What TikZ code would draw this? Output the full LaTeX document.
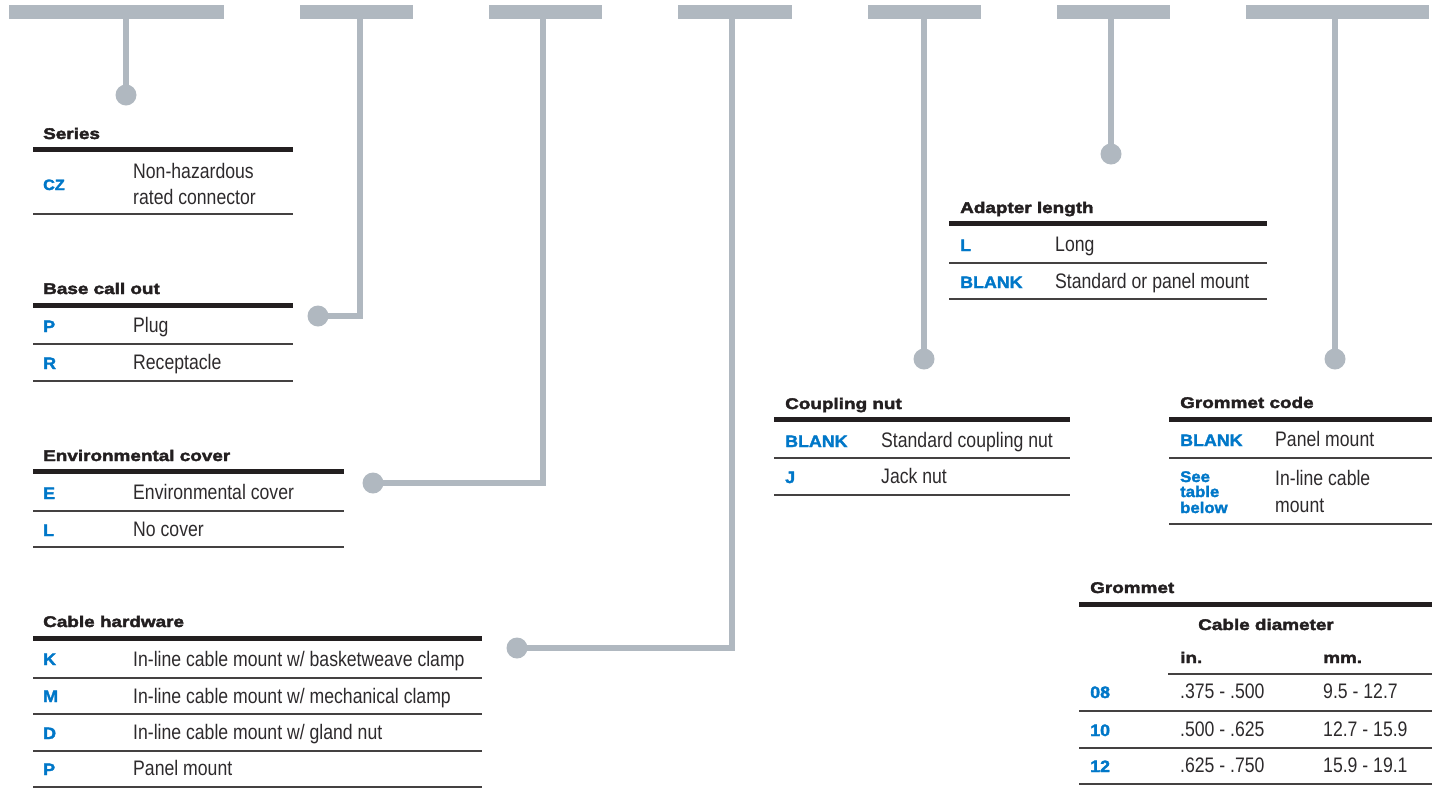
\documentclass[tikz,border=0pt]{standalone}
\usepackage{fontspec}
\setmainfont{Liberation Sans}
\newfontfamily\descfont[FakeStretch=0.84]{Liberation Sans}
\newfontfamily\headfont[FakeStretch=1.22,FakeBold=2.5]{Liberation Sans Bold}
\newfontfamily\codefont[FakeStretch=1.08,FakeBold=2]{Liberation Sans Bold}
\definecolor{lgray}{RGB}{176,184,192}
\definecolor{ink}{RGB}{35,31,32}
\definecolor{ink2}{RGB}{45,42,44}
\definecolor{blu}{RGB}{0,119,200}
\newcommand\splitrule[5]{\draw[#1] (#3,#2) -- ({#4-0.3},#2) ({#4+0.3},#2) -- (#5,#2);}
\newcommand\tsplitrule[6]{\draw[#1] (#3,#2) -- ({#4-0.3},#2) ({#4+0.3},#2) -- ({#5-0.3},#2) ({#5+0.3},#2) -- (#6,#2);}
\begin{document}
\begin{tikzpicture}[x=1pt,y=-1pt,
  bar/.style={fill=lgray, inner sep=0pt, minimum height=13.4pt},
  dot/.style={circle, fill=lgray, inner sep=0pt, minimum size=21pt},
  lead/.style={draw=lgray, line width=5.3pt},
  ttl/.style={anchor=base west, inner sep=0pt, text=ink, font=\headfont\fontsize{15.5}{15.5}\selectfont},
  cd/.style={anchor=base west, inner sep=0pt, text=blu, font=\codefont\fontsize{16.5}{16.5}\selectfont},
  see/.style={anchor=base west, inner sep=0pt, text=blu, font=\codefont\fontsize{15.5}{15.5}\selectfont},
  ds/.style={anchor=base west, inner sep=0pt, text=ink2, font=\descfont\fontsize{21}{26}\selectfont},
  trule/.style={draw=ink, line width=5pt},
  nrule/.style={draw=ink!85, line width=1.3pt}]
\useasboundingbox (0,0) rectangle (1436,788);

% top bars
\node[bar, minimum width=215pt] (bar1) at (116.5,12) {};
\node[bar, minimum width=113pt] (bar2) at (356.5,12) {};
\node[bar, minimum width=113pt] (bar3) at (545.5,12) {};
\node[bar, minimum width=114pt] (bar4) at (735,12) {};
\node[bar, minimum width=113pt] (bar5) at (924.5,12) {};
\node[bar, minimum width=113pt] (bar6) at (1113.5,12) {};
\node[bar, minimum width=183pt] (bar7) at (1337.5,12) {};

% dots
\node[dot] (dot1) at (126,95) {};
\node[dot] (dot2) at (318,316) {};
\node[dot] (dot3) at (373,483) {};
\node[dot] (dot4) at (517,648) {};
\node[dot] (dot5) at (924,359) {};
\node[dot] (dot6) at (1111,154) {};
\node[dot] (dot7) at (1335,359) {};

\coordinate (k2) at (360,316);
\coordinate (k3) at (543,483);
\coordinate (k4) at (732,648);

% leaders
\draw[lead] (bar1.south -| dot1) -- (dot1.center);
\draw[lead] (bar2.south -| k2) -- (k2) -- (dot2.center);
\draw[lead] (bar3.south -| k3) -- (k3) -- (dot3.center);
\draw[lead] (bar4.south -| k4) -- (k4) -- (dot4.center);
\draw[lead] (bar5.south -| dot5) -- (dot5.center);
\draw[lead] (bar6.south -| dot6) -- (dot6.center);
\draw[lead] (bar7.south -| dot7) -- (dot7.center);

% Series
\node[ttl] (ser-t) at (43,139) {Series};
\splitrule{trule}{149}{33}{122}{293}
\node[cd, font=\codefont\fontsize{15}{15}\selectfont] (ser-c1) at (43,190) {CZ};
\node[ds] (ser-d1a) at (133,178) {Non-hazardous};
\node[ds] (ser-d1b) at (133,204) {rated connector};
\splitrule{nrule}{214}{33}{122}{293}

% Base call out
\node[ttl] (base-t) at (43,294) {Base call out};
\splitrule{trule}{305}{33}{122}{293}
\node[cd] (base-c1) at (43,332) {P};
\node[ds] (base-d1) at (133,332) {Plug};
\splitrule{nrule}{344}{33}{122}{293}
\node[cd] (base-c2) at (43,369) {R};
\node[ds] (base-d2) at (133,369) {Receptacle};
\splitrule{nrule}{381}{33}{122}{293}

% Environmental cover
\node[ttl] (env-t) at (43,461) {Environmental cover};
\splitrule{trule}{471}{33}{122}{344}
\node[cd] (env-c1) at (43,499) {E};
\node[ds] (env-d1) at (133,499) {Environmental cover};
\splitrule{nrule}{511}{33}{122}{344}
\node[cd] (env-c2) at (43,536) {L};
\node[ds] (env-d2) at (133,536) {No cover};
\splitrule{nrule}{547}{33}{122}{344}

% Cable hardware
\node[ttl] (cab-t) at (43,627) {Cable hardware};
\splitrule{trule}{638}{33}{122}{482}
\node[cd] (cab-c1) at (43,665) {K};
\node[ds] (cab-d1) at (133,666) {In-line cable mount w/ basketweave clamp};
\splitrule{nrule}{678}{33}{122}{482}
\node[cd] (cab-c2) at (43,702) {M};
\node[ds] (cab-d2) at (133,703) {In-line cable mount w/ mechanical clamp};
\splitrule{nrule}{714}{33}{122}{482}
\node[cd] (cab-c3) at (43,739) {D};
\node[ds] (cab-d3) at (133,739) {In-line cable mount w/ gland nut};
\splitrule{nrule}{751}{33}{122}{482}
\node[cd] (cab-c4) at (43,775) {P};
\node[ds] (cab-d4) at (133,775) {Panel mount};
\splitrule{nrule}{787}{33}{122}{482}

% Adapter length
\node[ttl] (ad-t) at (960,213) {Adapter length};
\splitrule{trule}{223}{949}{1044}{1267}
\node[cd] (ad-c1) at (960,251) {L};
\node[ds] (ad-d1) at (1055,251) {Long};
\splitrule{nrule}{263}{949}{1044}{1267}
\node[cd] (ad-c2) at (960,288) {BLANK};
\node[ds] (ad-d2) at (1055,288) {Standard or panel mount};
\splitrule{nrule}{299}{949}{1044}{1267}

% Coupling nut
\node[ttl] (cn-t) at (785,409) {Coupling nut};
\splitrule{trule}{419}{774}{870}{1070}
\node[cd] (cn-c1) at (785,447) {BLANK};
\node[ds] (cn-d1) at (881,447) {Standard coupling nut};
\splitrule{nrule}{458}{774}{870}{1070}
\node[cd] (cn-c2) at (785,483) {J};
\node[ds] (cn-d2) at (881,483) {Jack nut};
\splitrule{nrule}{495}{774}{870}{1070}

% Grommet code
\node[ttl] (gc-t) at (1180,408) {Grommet code};
\splitrule{trule}{419}{1169}{1264}{1432}
\node[cd] (gc-c1) at (1180,446) {BLANK};
\node[ds] (gc-d1) at (1275,446) {Panel mount};
\splitrule{nrule}{458}{1169}{1264}{1432}
\node[see] (gc-c2a) at (1180,482) {See};
\node[see] (gc-c2b) at (1180,497) {table};
\node[see] (gc-c2c) at (1180,513) {below};
\node[ds] (gc-d2a) at (1275,485) {In-line cable};
\node[ds] (gc-d2b) at (1275,512) {mount};
\splitrule{nrule}{524}{1169}{1264}{1432}

% Grommet
\node[ttl] (gr-t) at (1090,593) {Grommet};
\tsplitrule{trule}{604}{1079}{1168}{1312}{1432}
\node[ttl, anchor=base] (gr-h) at (1266,630) {Cable diameter};
\node[ttl] (gr-in) at (1180,663) {in.};
\node[ttl] (gr-mm) at (1323,663) {mm.};
\splitrule{nrule}{674}{1168}{1312}{1432}
\node[cd] (gr-c1) at (1090,698) {08};
\node[ds] (gr-a1) at (1180,698) {.375 - .500};
\node[ds] (gr-b1) at (1323,698) {9.5 - 12.7};
\tsplitrule{nrule}{711}{1079}{1168}{1312}{1432}
\node[cd] (gr-c2) at (1090,736) {10};
\node[ds] (gr-a2) at (1180,736) {.500 - .625};
\node[ds] (gr-b2) at (1323,736) {12.7 - 15.9};
\tsplitrule{nrule}{748}{1079}{1168}{1312}{1432}
\node[cd] (gr-c3) at (1090,772) {12};
\node[ds] (gr-a3) at (1180,772) {.625 - .750};
\node[ds] (gr-b3) at (1323,772) {15.9 - 19.1};
\tsplitrule{nrule}{784}{1079}{1168}{1312}{1432}
\end{tikzpicture}
\end{document}
